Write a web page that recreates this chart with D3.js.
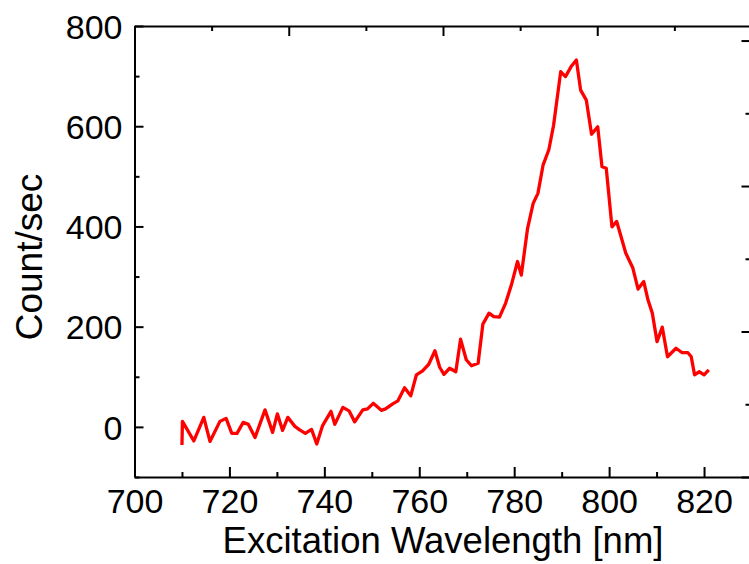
<!DOCTYPE html>
<html>
<head>
<meta charset="utf-8">
<script src="https://cdn.jsdelivr.net/npm/d3@7"></script>
<style>
  body { margin: 0; background: #fff; }
  text { font-family: "Liberation Sans", Arial, sans-serif; fill: #000; }
</style>
</head>
<body>
<div id="chart"></div>
<script>
'use strict';

// wavelength (nm) and count rate
const wavelength = [
    710.0, 710.1, 712.5, 714.6, 715.9, 718.0, 719.3, 720.5, 721.6, 722.9,
    724.0, 725.4, 727.5, 729.1, 730.1, 731.2, 732.3, 733.8, 734.8, 736.0,
    737.3, 738.4, 739.6, 741.4, 742.2, 743.9, 745.2, 746.4, 748.1, 749.1,
    750.3, 752.0, 752.9, 754.4, 755.5, 756.9, 758.2, 759.4, 760.7, 762.0,
    763.3, 764.3, 765.2, 766.4, 767.7, 768.7, 769.9, 771.0, 772.4, 773.4,
    774.7, 775.7, 776.9, 778.2, 779.4, 780.7, 781.5, 782.8, 784.0, 785.0,
    786.1, 787.3, 788.3, 789.8, 790.8, 792.0, 793.1, 794.0, 795.2, 796.3,
    797.6, 798.5, 799.4, 800.6, 801.6, 803.5, 805.0, 806.1, 807.3, 808.2,
    809.1, 810.1, 811.2, 812.3, 814.1, 815.4, 816.6, 817.3, 818.0, 819.0,
    820.0, 821.0
];
const counts = [
    -36, 11, -28, 19, -29, 11, 17, -13, -13, 9,
    5, -21, 34, -11, 26, -7, 19, 1, -6, -13,
    -5, -34, 2, 31, 5, 39, 32, 10, 34, 36,
    47, 33, 36, 46, 52, 78, 62, 104, 112, 125,
    152, 119, 105, 117, 110, 175, 134, 122, 127, 205,
    227, 220, 219, 247, 283, 330, 303, 395, 446, 466,
    523, 553, 602, 709, 699, 719, 732, 672, 652, 584,
    599, 519, 516, 399, 410, 347, 317, 275, 290, 253,
    227, 170, 199, 140, 157, 148, 148, 140, 104, 110,
    104, 114
];

const xMajor = [700, 720, 740, 760, 780, 800, 820];
const xMinor = [710, 730, 750, 770, 790, 810, 830];
const yMajor = [0, 200, 400, 600, 800];
const yMinor = [-100, 100, 300, 500, 700];
// unlabelled top / right axes
const topMajor = [0, 1, 2, 3, 4];
const topMinor = [0.5, 1.5, 2.5, 3.5];
const rightMajor = [0, 1, 2, 3];
const rightMinor = [0.5, 1.5, 2.5];

const width = 749, height = 564;
const plotLeft = 134.5, plotRight = 751.5, plotTop = 26, plotBottom = 477;

const svg = d3.select('#chart')
    .append('svg')
    .attr('width', width)
    .attr('height', height);

const x = d3.scaleLinear().domain([700, 830]).range([plotLeft, plotRight]);
const y = d3.scaleLinear().domain([-100, 800]).range([plotBottom, plotTop]);
const xTop = d3.scaleLinear().domain([0, 4]).range([plotLeft, plotRight]);
const yRight = d3.scaleLinear().domain([0, 3.1]).range([plotBottom, plotTop]);

function styleAxis(g) {
    g.select('.domain').attr('stroke-width', 2);
    g.selectAll('.tick line').attr('stroke-width', 2);
    g.selectAll('.tick text').style('font-size', '34px').attr('fill', '#000');
}

// bottom
svg.append('g')
    .attr('transform', `translate(0,${plotBottom})`)
    .call(d3.axisBottom(x).tickValues(xMajor).tickSize(-10).tickSizeOuter(0).tickFormat(d3.format('d')))
    .call(styleAxis)
    .call(g => g.selectAll('.tick text').attr('y', 36).attr('dy', 0));
svg.append('g')
    .attr('transform', `translate(0,${plotBottom})`)
    .call(d3.axisBottom(x).tickValues(xMinor).tickSize(-5).tickFormat(''))
    .call(styleAxis)
    .call(g => g.select('.domain').remove());

// left
svg.append('g')
    .attr('transform', `translate(${plotLeft},0)`)
    .call(d3.axisLeft(y).tickValues(yMajor).tickSize(-9).tickSizeOuter(0).tickPadding(12))
    .call(styleAxis)
    .call(g => g.selectAll('.tick text').attr('dy', '0.36em'));
svg.append('g')
    .attr('transform', `translate(${plotLeft},0)`)
    .call(d3.axisLeft(y).tickValues(yMinor).tickSize(-5).tickFormat(''))
    .call(styleAxis)
    .call(g => g.select('.domain').remove());

// top
svg.append('g')
    .attr('transform', `translate(0,${plotTop})`)
    .call(d3.axisTop(xTop).tickValues(topMajor).tickSize(-10).tickSizeOuter(0).tickFormat(''))
    .call(styleAxis);
svg.append('g')
    .attr('transform', `translate(0,${plotTop})`)
    .call(d3.axisTop(xTop).tickValues(topMinor).tickSize(-5).tickFormat(''))
    .call(styleAxis)
    .call(g => g.select('.domain').remove());

// right
svg.append('g')
    .attr('transform', `translate(${plotRight},0)`)
    .call(d3.axisRight(yRight).tickValues(rightMajor).tickSize(-10).tickSizeOuter(0).tickFormat(''))
    .call(styleAxis);
svg.append('g')
    .attr('transform', `translate(${plotRight},0)`)
    .call(d3.axisRight(yRight).tickValues(rightMinor).tickSize(-6).tickFormat(''))
    .call(styleAxis)
    .call(g => g.select('.domain').remove());

// spectrum
const line = d3.line()
    .x((d, i) => x(wavelength[i]))
    .y(d => y(d));

svg.append('path')
    .datum(counts)
    .attr('d', line)
    .attr('fill', 'none')
    .attr('stroke', '#ff0000')
    .attr('stroke-width', 3.3)
    .attr('stroke-linejoin', 'round');

// titles
svg.append('text')
    .attr('x', (plotLeft + plotRight) / 2)
    .attr('y', 553)
    .attr('text-anchor', 'middle')
    .style('font-size', '36.5px')
    .text('Excitation Wavelength [nm]');

svg.append('text')
    .attr('transform', 'translate(42,257) rotate(-90)')
    .attr('text-anchor', 'middle')
    .style('font-size', '37px')
    .text('Count/sec');
</script>
</body>
</html>
